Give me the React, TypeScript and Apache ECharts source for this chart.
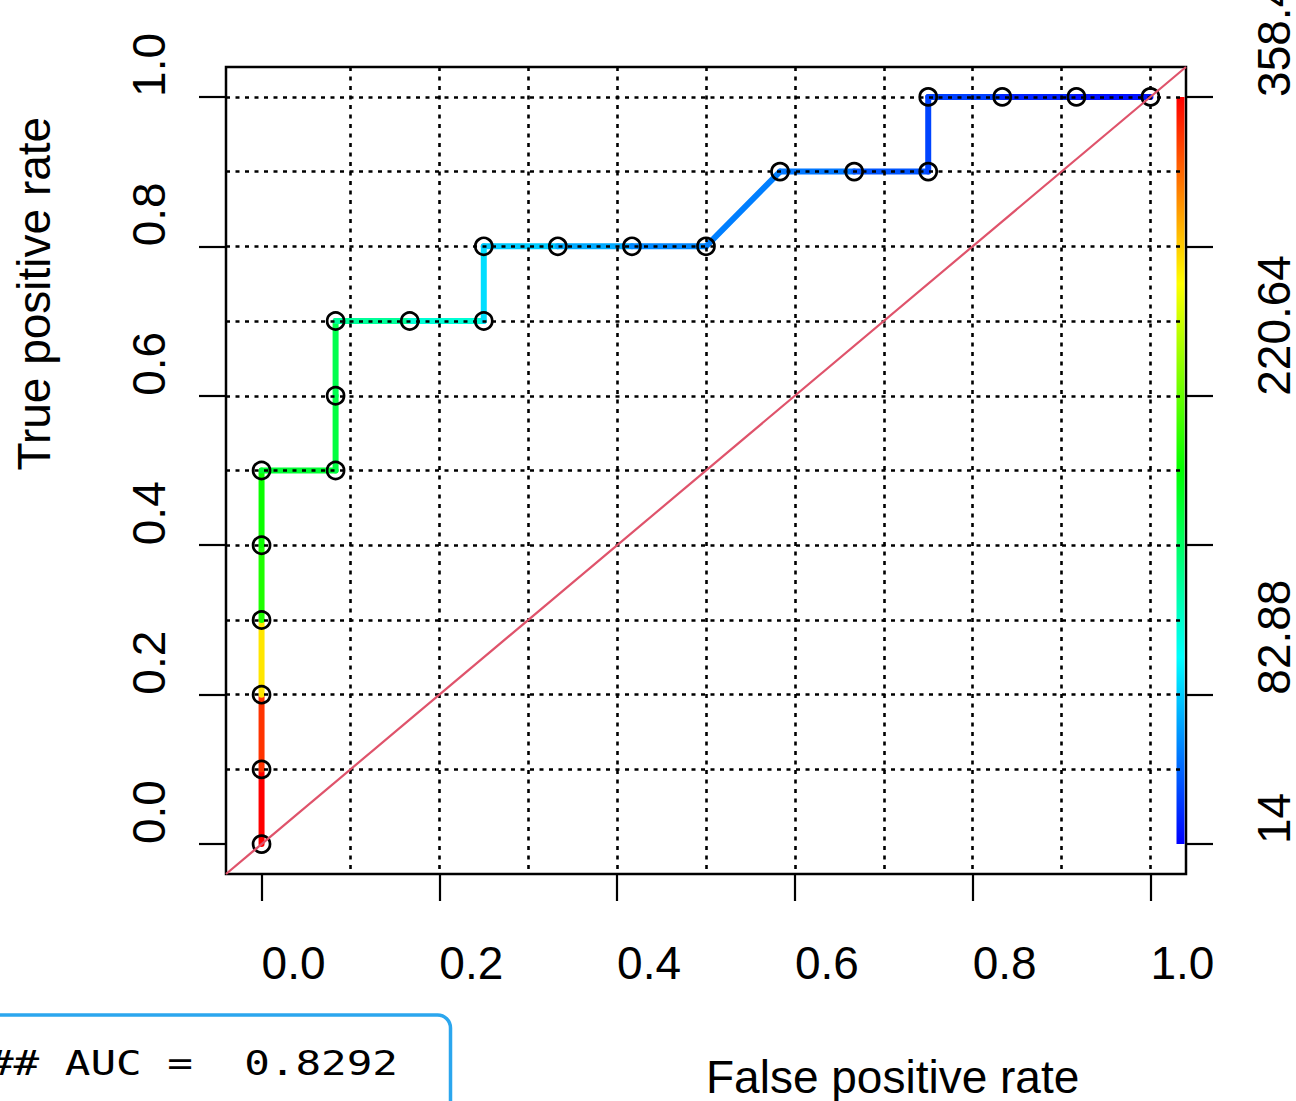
import React, { useEffect, useRef } from 'react';
import * as echarts from 'echarts';

// ---- data ----
const fpr = [0, 0, 0, 0, 0, 0, 0.0833, 0.0833, 0.0833, 0.1667, 0.25, 0.25, 0.3333, 0.4167, 0.5, 0.5833, 0.6667, 0.75, 0.75, 0.8333, 0.9167, 1];
const tpr = [0, 0.1, 0.2, 0.3, 0.4, 0.5, 0.5, 0.6, 0.7, 0.7, 0.7, 0.8, 0.8, 0.8, 0.8, 0.9, 0.9, 0.9, 1, 1, 1, 1];
const cutoffs = [358.4, 341.2, 280.9, 196.2, 189.6, 169.0, 164.7, 160.0, 134.5, 113.9, 88.8, 82.9, 71.4, 59.9, 57.0, 54.3, 42.7, 37.0, 35.6, 25.5, 19.7, 14.0];
const cutoffMin = 14;
const cutoffMax = 358.4;

const xTicks = [0, 0.2, 0.4, 0.6, 0.8, 1];
const yTicks = [0, 0.2, 0.4, 0.6, 0.8, 1];
const gridValues = [0.1, 0.2, 0.3, 0.4, 0.5, 0.6, 0.7, 0.8, 0.9, 1];
const rightTickValues = [0, 0.2, 0.4, 0.6, 0.8, 1];
const rightTickLabels = ['14', '82.88', '', '220.64', '', '358.4'];
const aucText = '## AUC =  0.8292';

// ---- helpers ----
const AX_MIN = -0.04;
const AX_MAX = 1.04;
const FONT = "'Liberation Sans', Arial, Helvetica, sans-serif";

function hsvToHex(h: number, s: number, v: number) {
  const i = Math.floor(h * 6);
  const f = h * 6 - i;
  const p = v * (1 - s);
  const q = v * (1 - f * s);
  const t = v * (1 - (1 - f) * s);
  let r = 0, g = 0, b = 0;
  switch (((i % 6) + 6) % 6) {
    case 0: r = v; g = t; b = p; break;
    case 1: r = q; g = v; b = p; break;
    case 2: r = p; g = v; b = t; break;
    case 3: r = p; g = q; b = v; break;
    case 4: r = t; g = p; b = v; break;
    default: r = v; g = p; b = q; break;
  }
  const hx = (x: number) => Math.round(x * 255).toString(16).padStart(2, '0');
  return '#' + hx(r) + hx(g) + hx(b);
}
// reversed rainbow: blue (low) -> red (high)
function paletteColor(t: number) {
  const tt = Math.max(0, Math.min(1, t));
  return hsvToHex((1 - tt) * (4 / 6), 1, 1);
}
function cutoffColor(c: number) {
  return paletteColor((c - cutoffMin) / (cutoffMax - cutoffMin));
}

const ROC_WIDTH = 6;
// each segment: [x0, y0, x1, y1, cutoff of start point]
const segments = fpr.slice(0, -1).map((x, i) => [x, tpr[i], fpr[i + 1], tpr[i + 1], cutoffs[i]]);
const points = fpr.map((x, i) => [x, tpr[i]]);
const colorStops = [0, 0.25, 0.5, 0.75, 1].map((o) => ({ offset: o, color: paletteColor(o) }));

const tickStyle = { show: true, length: 27, inside: false, lineStyle: { color: '#000', width: 2.2 } };
const labelBase = { fontSize: 46, color: '#000', fontFamily: FONT, hideOverlap: false };
const gridLineStyle = { color: '#000', width: 2.6, type: [4, 5.5] as any };

function buildOption(): any {
  return {
    animation: false,
    backgroundColor: '#fff',
    textStyle: { fontFamily: FONT },
    grid: {
      left: 226, right: 110, top: 67, bottom: 227,
      show: true, borderColor: '#000', borderWidth: 2.5, backgroundColor: 'rgba(0,0,0,0)',
      containLabel: false, outerBoundsMode: 'none',
    },
    xAxis: [
      {
        type: 'value', min: AX_MIN, max: AX_MAX, position: 'bottom', z: 6,
        axisLine: { show: false, onZero: false },
        axisTick: { ...tickStyle, customValues: xTicks },
        axisLabel: { ...labelBase, customValues: xTicks, formatter: (v: number) => v.toFixed(1), align: 'left', margin: 66 },
        splitLine: { show: false },
        name: 'False positive rate', nameLocation: 'middle', nameGap: 180, nameMoveOverlap: false,
        nameTextStyle: { fontSize: 46, color: '#000', fontFamily: FONT, align: 'left', verticalAlign: 'top' },
      },
      {
        type: 'value', min: AX_MIN, max: AX_MAX, position: 'bottom', z: 3,
        axisLine: { show: false, onZero: false },
        axisTick: { show: false, customValues: gridValues },
        axisLabel: { show: false },
        splitLine: { show: true, lineStyle: gridLineStyle },
      },
    ],
    yAxis: [
      {
        type: 'value', min: AX_MIN, max: AX_MAX, position: 'left', z: 6,
        axisLine: { show: false, onZero: false },
        axisTick: { ...tickStyle, customValues: yTicks },
        axisLabel: { ...labelBase, customValues: yTicks, formatter: (v: number) => v.toFixed(1), rotate: 90, align: 'left', verticalAlign: 'bottom', margin: 54 },
        splitLine: { show: false },
        name: 'True positive rate', nameLocation: 'middle', nameGap: 169, nameRotate: 90, nameMoveOverlap: false,
        nameTextStyle: { fontSize: 46, color: '#000', fontFamily: FONT, align: 'left', verticalAlign: 'bottom' },
      },
      {
        type: 'value', min: AX_MIN, max: AX_MAX, position: 'left', z: 3,
        axisLine: { show: false, onZero: false },
        axisTick: { show: false, customValues: gridValues },
        axisLabel: { show: false },
        splitLine: { show: true, lineStyle: gridLineStyle },
      },
      {
        type: 'value', min: AX_MIN, max: AX_MAX, position: 'right', z: 6,
        axisLine: { show: false, onZero: false },
        axisTick: { ...tickStyle, customValues: rightTickValues },
        axisLabel: {
          ...labelBase, customValues: rightTickValues,
          formatter: (v: number) => rightTickLabels[Math.round(v / 0.2)] ?? '',
          rotate: 90, align: 'left', verticalAlign: 'top', margin: 65,
        },
        splitLine: { show: false },
      },
    ],
    series: [
      {
        type: 'custom', coordinateSystem: 'cartesian2d', xAxisIndex: 0, yAxisIndex: 0, z: 2, silent: true,
        encode: { x: [0, 2], y: [1, 3] },
        data: segments,
        renderItem: (params: any, api: any) => {
          const p0 = api.coord([api.value(0), api.value(1)]);
          const p1 = api.coord([api.value(2), api.value(3)]);
          return {
            type: 'line',
            shape: { x1: p0[0], y1: p0[1], x2: p1[0], y2: p1[1] },
            style: { stroke: cutoffColor(api.value(4)), lineWidth: ROC_WIDTH, lineCap: 'round' },
          };
        },
      },
      {
        type: 'custom', coordinateSystem: 'cartesian2d', xAxisIndex: 0, yAxisIndex: 0, z: 2, silent: true,
        data: [[0, 1]],
        renderItem: (params: any, api: any) => {
          const cs = params.coordSys;
          const yTop = api.coord([0, api.value(1)])[1];
          const yBot = api.coord([0, api.value(0)])[1];
          return {
            type: 'rect',
            shape: { x: cs.x + cs.width - 9.5, y: yTop, width: 8, height: yBot - yTop },
            style: { fill: new echarts.graphic.LinearGradient(0, 1, 0, 0, colorStops) },
          };
        },
      },
      {
        type: 'scatter', xAxisIndex: 0, yAxisIndex: 0, z: 4, silent: true,
        symbol: 'circle', symbolSize: 17,
        itemStyle: { color: 'rgba(0,0,0,0)', borderColor: '#000', borderWidth: 2.7, opacity: 1 },
        emphasis: { disabled: true },
        data: points,
      },
      {
        type: 'line', xAxisIndex: 0, yAxisIndex: 0, z: 5, silent: true,
        symbol: 'none',
        lineStyle: { color: '#DF536B', width: 2.2 },
        data: [[AX_MIN, AX_MIN], [AX_MAX, AX_MAX]],
      },
    ],
    graphic: [
      {
        type: 'rect', z: 10, silent: true,
        shape: { x: -20, y: 1015, width: 470.5, height: 140, r: 13 },
        style: { fill: '#fff', stroke: '#2BA6EE', lineWidth: 3.5 },
      },
      {
        type: 'text', z: 11, silent: true, x: -12, y: 1064, scaleX: 1.29,
        style: { text: aucText, fontSize: 33, fontFamily: "'DejaVu Sans Mono', monospace", fill: '#000', verticalAlign: 'middle', align: 'left' },
      },
    ],
  };
}

export default function App() {
  const ref = useRef<HTMLDivElement>(null);
  useEffect(() => {
    const chart = echarts.init(ref.current!, null, { renderer: 'svg' });
    chart.setOption(buildOption());
    return () => chart.dispose();
  }, []);
  return (
    <div
      ref={ref}
      style={{ position: 'fixed', left: 0, top: 0, width: 1296, height: 1101, background: '#fff' }}
    />
  );
}
